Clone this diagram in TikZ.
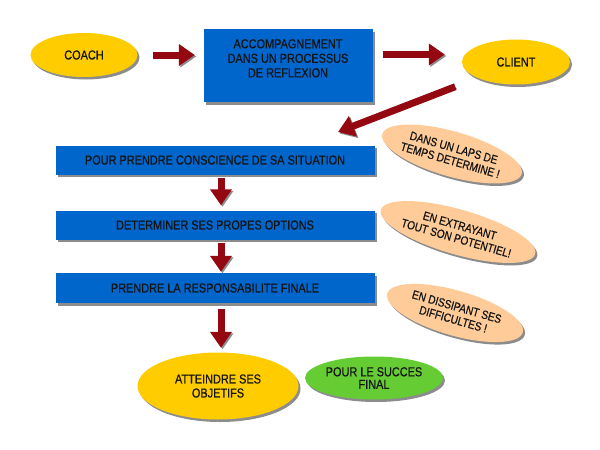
\documentclass[tikz,border=0pt]{standalone}
\usepackage{fontspec}
\setmainfont{Liberation Sans}[FakeStretch=0.84, FakeBold=0.6]
\usetikzlibrary{arrows.meta,shapes.geometric,shadows,positioning,calc}
\definecolor{ovalyellow}{HTML}{FFCC00}
\definecolor{boxblue}{HTML}{0066CC}
\definecolor{finalgreen}{HTML}{66CC33}
\definecolor{notepeach}{HTML}{FFCC99}
\definecolor{arrred}{HTML}{940812}
\definecolor{txtdark}{HTML}{141414}

\begin{document}
\begin{tikzpicture}[x=1pt, y=-1pt,
    shd/.style={drop shadow={shadow xshift=2pt, shadow yshift=-2.5pt, fill=black, opacity=0.45}},
    oval/.style={ellipse, fill=ovalyellow, shd, inner sep=0pt, align=center, text=txtdark, font=\fontsize{13}{14}\selectfont},
    bluebox/.style={rectangle, fill=boxblue, shd, inner sep=0pt, align=center, text=txtdark, minimum width=319pt, minimum height=29pt, font=\fontsize{13}{14.5}\selectfont},
    note/.style={oval, fill=notepeach, rotate=-16, minimum width=141pt, minimum height=45pt, font=\fontsize{12}{13}\selectfont},
    arr/.style={-{Triangle[length=16pt,width=21pt]}, line width=7pt, draw=arrred, preaction={draw=black!45, transform canvas={shift={(1.5pt,-1.5pt)}}}}
]
\useasboundingbox (0,0) rectangle (600,450);

\node[oval, minimum width=107pt, minimum height=44pt] (coach) at (84,55) {COACH};
\node[bluebox, minimum width=169pt, minimum height=73pt] (acc) at (288,65.5) {ACCOMPAGNEMENT\\DANS UN PROCESSUS\\DE REFLEXION\\\mbox{}};
\node[oval, minimum width=108pt, minimum height=45pt] (client) at (516,62) {CLIENT};

\node[bluebox] (conscience) at (215,160) {POUR PRENDRE CONSCIENCE DE SA SITUATION};
\node[bluebox] (options) at (215,225) {DETERMINER SES PROPES OPTIONS};
\node[bluebox, minimum height=30pt] (respons) at (215,288) {PRENDRE LA RESPONSABILITE FINALE};

\node[oval, minimum width=161pt, minimum height=67pt] (objectifs) at (218,386) {ATTEINDRE SES\\OBJETIFS};
\node[oval, fill=finalgreen, minimum width=138pt, minimum height=43pt, font=\fontsize{13}{12.5}\selectfont] (succes) at (374,378) {POUR LE SUCCES\\FINAL};

% bulles de commentaire
\node[note] (laps) at (452,154) {DANS UN LAPS DE\\TEMPS DETERMINE !};
\node[note] (potentiel) at (458,232) {EN EXTRAYANT\\TOUT SON POTENTIEL!};
\node[note] (difficultes) at (455,313) {EN DISSIPANT SES\\DIFFICULTES !};

\coordinate (cible) at (338,132);

\draw[arr, shorten <=15.5pt, shorten >=8.5pt] (coach.east) -- (coach.east -| acc.west);
\draw[arr, shorten <=10pt, shorten >=17pt] ([yshift=11pt]acc.east) -- ([yshift=11pt]acc.east -| client.west);
\draw[arr, shorten <=24pt] (client.south west) -- (cible);
\draw[arr, shorten <=3pt, shorten >=5pt] ([xshift=6pt]conscience.south) -- ([xshift=6pt]options.north);
\draw[arr, shorten <=3.5pt, shorten >=1pt] ([xshift=6pt]options.south) -- ([xshift=6pt]respons.north);
\draw[arr, shorten <=6pt, shorten >=4.5pt] ([xshift=6pt]respons.south) -- ([xshift=6pt]respons.south |- objectifs.north);
\end{tikzpicture}
\end{document}
